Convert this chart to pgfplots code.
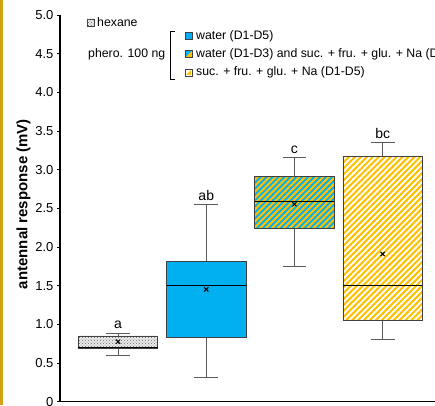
\documentclass[border=0pt]{standalone}
\usepackage{fontspec}
\setmainfont{Liberation Sans}
\usepackage{pgfplots}
\pgfplotsset{compat=1.18}
\usepgfplotslibrary{statistics}
\usetikzlibrary{patterns,patterns.meta}

\definecolor{skyb}{RGB}{0,176,240}
\definecolor{gold}{RGB}{255,192,0}
\definecolor{edge}{RGB}{64,64,64}
\definecolor{whisk}{RGB}{90,90,90}
\definecolor{goldbar}{RGB}{212,160,23}

\tikzset{
  stripes/.style={pattern={Lines[angle=45,distance=4.2pt,line width=2.1pt]}, pattern color=gold},
  dotsq/.style={fill=gray!15, postaction={pattern=crosshatch dots, pattern color=gray!80!black}},
}
\pgfplotsset{
  /pgfplots/boxplot/every whisker/.style={whisk, line width=0.9pt},
  /pgfplots/boxplot/every median/.style={black, line width=0.9pt},
}

\begin{document}
\begin{tikzpicture}[font=\fontsize{12.3}{14.4}\selectfont]
\useasboundingbox (0,0) rectangle (435pt,405pt);
\clip (0,0) rectangle (435pt,405pt);
\fill[goldbar] (0,0) rectangle (3pt,405pt);

\begin{axis}[
  at={(60pt,3.3pt)}, anchor=south west,
  scale only axis, width=384.6pt, height=386.7pt,
  xmin=0.342, xmax=4.702, ymin=0, ymax=5,
  axis lines*=left,
  axis line style={line width=1.4pt, black},
  xtick=\empty,
  ytick={0,0.5,1,1.5,2,2.5,3,3.5,4,4.5,5},
  yticklabels={0,0.5,1.0,1.5,2.0,2.5,3.0,3.5,4.0,4.5,5.0},
  yticklabel style={font=\fontsize{13}{15}\selectfont},
  tick align=outside, major tick length=3pt,
  tick style={black, line width=0.8pt},
  every axis y label/.style={at={(axis description cs:-0.0949,0.511)}, rotate=90, anchor=center, font=\fontsize{15}{18}\selectfont\bfseries},
  ylabel={antennal response (mV)},
  clip=false,
]
% hexane
\addplot[whisk, boxplot prepared={draw position=1, box extend=0.9, whisker extend=0.27, draw direction=y,
  lower whisker=0.60, lower quartile=0.694,
  median=0.70, upper quartile=0.85, upper whisker=0.884,
  every box/.style={draw=edge, line width=0.8pt, dotsq}}] coordinates {};
% water (D1-D5)
\addplot[whisk, boxplot prepared={draw position=2, box extend=0.9, whisker extend=0.27, draw direction=y,
  lower whisker=0.31, lower quartile=0.828,
  median=1.509, upper quartile=1.82, upper whisker=2.555,
  every box/.style={draw=edge, line width=0.8pt, fill=skyb}}] coordinates {};
% water (D1-D3) and suc. + fru. + glu. + Na
\addplot[whisk, boxplot prepared={draw position=3, box extend=0.9, whisker extend=0.27, draw direction=y,
  lower whisker=1.755, lower quartile=2.242,
  median=2.595, upper quartile=2.915, upper whisker=3.155,
  every box/.style={draw=edge, line width=0.8pt, fill=skyb, postaction={stripes}}}] coordinates {};
% suc. + fru. + glu. + Na (D1-D5)
\addplot[whisk, boxplot prepared={draw position=4, box extend=0.9, whisker extend=0.27, draw direction=y,
  lower whisker=0.807, lower quartile=1.048,
  median=1.509, upper quartile=3.173, upper whisker=3.354,
  every box/.style={draw=edge, line width=0.8pt, fill=white, postaction={stripes}}}] coordinates {};
% means
\addplot[only marks, mark=x, mark size=3pt, black, line width=1pt]
  coordinates {(1,0.776) (2,1.453) (3,2.553) (4,1.91)};

\node[anchor=base, font=\fontsize{14}{16}\selectfont] at (axis cs:1,0.949) {a};
\node[anchor=base, font=\fontsize{14}{16}\selectfont] at (axis cs:2,2.599) {ab};
\node[anchor=base, font=\fontsize{14}{16}\selectfont] at (axis cs:3,3.203) {c};
\node[anchor=base, font=\fontsize{14}{16}\selectfont] at (axis cs:4,3.397) {bc};
\end{axis}

% legend
\draw[edge, line width=0.6pt, dotsq] (87pt,379pt) rectangle (94pt,386pt);
\node[anchor=west, inner sep=0pt] at (97pt,382.5pt) {hexane};
\node[anchor=west, inner sep=0pt] at (88pt,350.7pt) {phero. 100 ng};
\draw[black, line width=0.7pt] (175pt,373.3pt) -- (170pt,373.3pt) -- (170pt,326pt) -- (175pt,326pt);
\draw[edge, line width=0.6pt, fill=skyb] (185pt,365.5pt) rectangle (192pt,372.5pt);
\draw[edge, line width=0.6pt, fill=skyb] (185pt,347.2pt) rectangle (192pt,354.2pt);
\fill[gold] (185pt,347.2pt) -- (192pt,354.2pt) -- (192pt,347.2pt) -- cycle;
\draw[edge, line width=0.6pt] (185pt,347.2pt) rectangle (192pt,354.2pt);
\draw[edge, line width=0.6pt, fill=white] (185pt,329pt) rectangle (192pt,336pt);
\fill[gold] (186pt,330pt) -- (191pt,335pt) -- (191pt,330pt) -- cycle;
\draw[edge, line width=0.6pt] (185pt,329pt) rectangle (192pt,336pt);
\node[anchor=west, inner sep=0pt] at (196pt,369pt) {water (D1-D5)};
\node[anchor=west, inner sep=0pt] at (196pt,350.7pt) {water (D1-D3) and suc. + fru. + glu. + Na (D1-D3)};
\node[anchor=west, inner sep=0pt] at (196pt,332.5pt) {suc. + fru. + glu. + Na (D1-D5)};
\end{tikzpicture}
\end{document}
